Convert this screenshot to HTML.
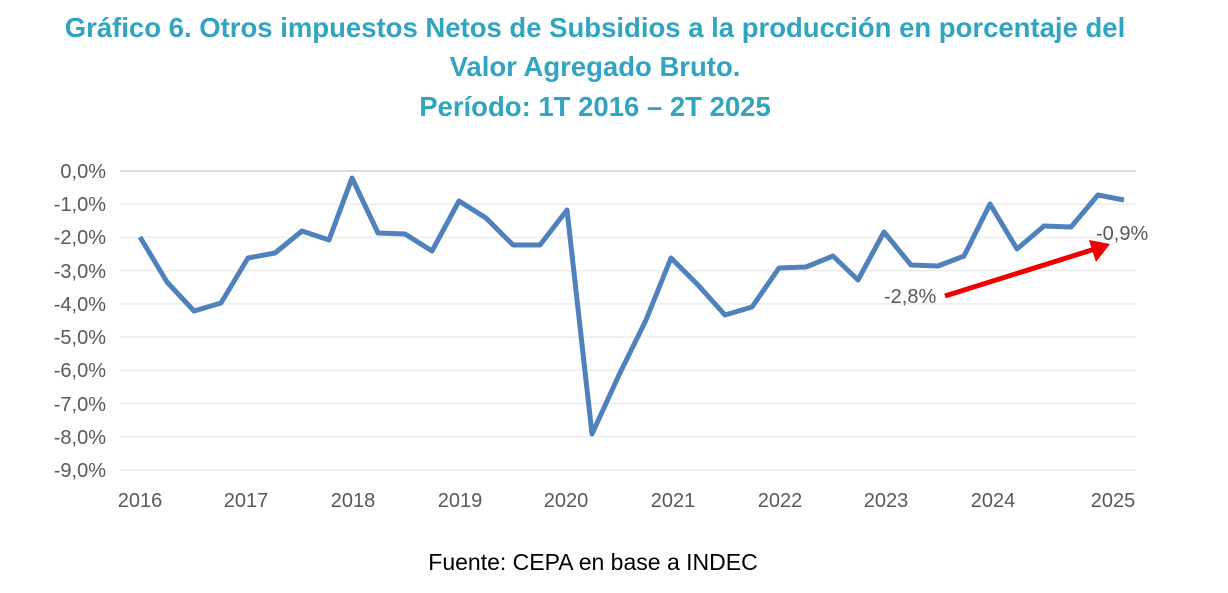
<!DOCTYPE html>
<html><head><style>
body{margin:0;width:1228px;height:588px;background:#fff;overflow:hidden}
</style></head><body>
<svg width="1228" height="588" xmlns="http://www.w3.org/2000/svg" font-family="Liberation Sans, sans-serif">
<g fill="#31a4c2" font-weight="bold" font-size="27.5" text-anchor="middle">
<text x="595" y="37">Gráfico 6. Otros impuestos Netos de Subsidios a la producción en porcentaje del</text>
<text x="595" y="76">Valor Agregado Bruto.</text>
<text x="595" y="116">Período: 1T 2016 – 2T 2025</text>
</g>
<g stroke="#ececec" stroke-width="1.5">
<line x1="120" x2="1136" y1="204.2" y2="204.2"/><line x1="120" x2="1136" y1="237.4" y2="237.4"/>
<line x1="120" x2="1136" y1="270.7" y2="270.7"/><line x1="120" x2="1136" y1="303.9" y2="303.9"/>
<line x1="120" x2="1136" y1="337.1" y2="337.1"/><line x1="120" x2="1136" y1="370.3" y2="370.3"/>
<line x1="120" x2="1136" y1="403.6" y2="403.6"/><line x1="120" x2="1136" y1="436.8" y2="436.8"/>
<line x1="120" x2="1136" y1="470" y2="470"/>
</g>
<line x1="120" x2="1136" y1="171" y2="171" stroke="#d4d4d4" stroke-width="1.5"/>
<g fill="#595959" font-size="20" text-anchor="end">
<text x="106" y="178">0,0%</text><text x="106" y="211">-1,0%</text><text x="106" y="244">-2,0%</text>
<text x="106" y="278">-3,0%</text><text x="106" y="311">-4,0%</text><text x="106" y="344">-5,0%</text>
<text x="106" y="377">-6,0%</text><text x="106" y="411">-7,0%</text><text x="106" y="444">-8,0%</text>
<text x="106" y="477">-9,0%</text>
</g>
<g fill="#595959" font-size="20" text-anchor="middle">
<text x="140" y="507">2016</text><text x="246" y="507">2017</text><text x="353" y="507">2018</text>
<text x="460" y="507">2019</text><text x="566" y="507">2020</text><text x="673" y="507">2021</text>
<text x="780" y="507">2022</text><text x="886" y="507">2023</text><text x="993" y="507">2024</text>
<text x="1113" y="507">2025</text>
</g>
<polyline fill="none" stroke="#4f81bd" stroke-width="5" stroke-linejoin="round" points="140,237 167,282 194,311 221,303 248,258 275,253 302,231 329,240 352,178 378,233 405,234 432,251 459,201 486,218 513,245 540,245 567,210 592,434 619,375 646,320 671,258 698,285 725,315 752,307 779,268 806,267 833,256 858,280 884,232 911,265 938,266 964,256 990,204 1017,249 1044,226 1071,227 1098,195 1124,200"/>
<line x1="945" y1="296" x2="1095" y2="249" stroke="#f00000" stroke-width="5"/>
<polygon points="1110,244 1089,240 1096,262" fill="#f00000"/>
<text x="884" y="303" font-size="20" fill="#595959">-2,8%</text>
<text x="1096" y="240" font-size="20" fill="#595959">-0,9%</text>
<text x="593" y="570" font-size="23" fill="#000" text-anchor="middle">Fuente: CEPA en base a INDEC</text>
</svg>
</body></html>
